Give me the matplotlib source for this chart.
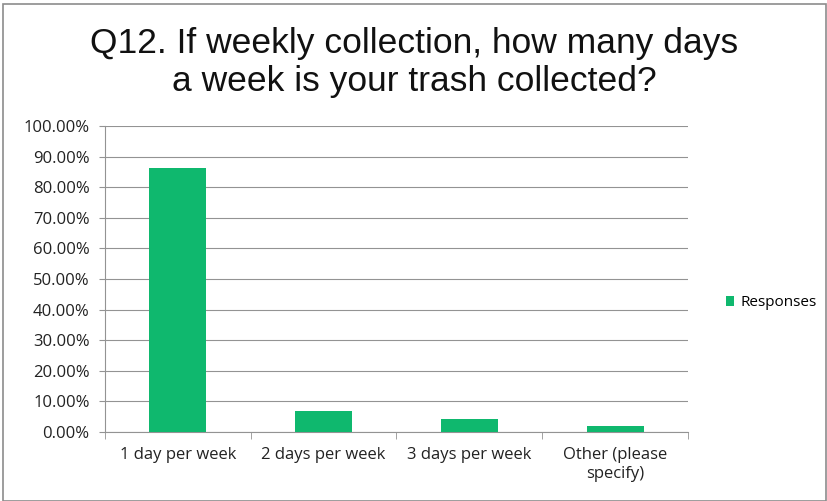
import matplotlib.pyplot as plt
from matplotlib.ticker import FuncFormatter
from matplotlib.patches import Rectangle

categories = ["1 day per week", "2 days per week", "3 days per week", "Other (please\nspecify)"]
responses = [86.3, 6.9, 4.2, 2.0]
yticks = [0, 10, 20, 30, 40, 50, 60, 70, 80, 90, 100]

fig = plt.figure(figsize=(8.28, 5.01), dpi=100)
ax = fig.add_axes([105/828, 1 - 432/501, (688-105)/828, (432-126)/501])

x = range(len(categories))
ax.bar(x, responses, width=0.39, color="#0fb86e", label="Responses", zorder=3)

ax.set_xlim(-0.5, len(categories) - 0.5)
ax.set_ylim(0, 100)
ax.set_yticks(yticks)
ax.yaxis.set_major_formatter(FuncFormatter(lambda v, p: f"{v:.2f}%"))
ax.grid(axis="y", color="#939393", linewidth=0.8, zorder=0)
ax.tick_params(axis="y", length=4, color="#939393", labelsize=12, pad=7)

ax.set_xticks(list(x))
ax.set_xticklabels(categories, fontsize=12, linespacing=1.25)
ax.tick_params(axis="x", length=0, pad=11)
# category boundary ticks on the bottom axis
ax.set_xticks([i - 0.5 for i in range(len(categories) + 1)], minor=True)
ax.tick_params(axis="x", which="minor", length=5, color="#939393", direction="out")

for s in ["top", "right"]:
    ax.spines[s].set_visible(False)
ax.spines["left"].set_color("#939393")
ax.spines["bottom"].set_color("#939393")
for lbl in ax.get_xticklabels() + ax.get_yticklabels():
    lbl.set_fontfamily("Open Sans")
    lbl.set_color("#222222")

fig.text(0.5, 1 - 44/501, "Q12. If weekly collection, how many days", ha="center", va="center",
         fontsize=25.5, family="Liberation Sans", color="#111111")
fig.text(0.5, 1 - 81/501, "a week is your trash collected?", ha="center", va="center",
         fontsize=25.5, family="Liberation Sans", color="#111111")

leg = ax.legend(loc="center left", bbox_to_anchor=(712/828, 1 - 303/501), bbox_transform=fig.transFigure,
                frameon=False, handlelength=0.55, handleheight=0.55, handletextpad=0.4,
                prop={"family": "Open Sans", "size": 11})

fig.patches.append(Rectangle((3/828, 0), 1 - 5/828, 1 - 4/501, transform=fig.transFigure,
                             fill=False, edgecolor="#8c8c8c", linewidth=1.2))

fig.savefig("out.png", dpi=100)
